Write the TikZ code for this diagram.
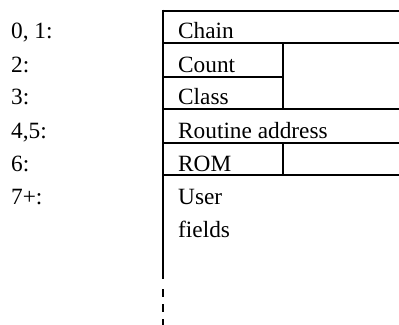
\documentclass[tikz,border=0pt]{standalone}
\usepackage{fontspec}
\setmainfont{Liberation Serif}
\begin{document}
\begin{tikzpicture}[x=1bp,y=-1bp,
  rule/.style={line width=2.6bp},
  lbl/.style={anchor=base west,inner sep=0pt,font=\fontsize{23.3bp}{28bp}\selectfont},
  fld/.style={anchor=base west,inner sep=0pt,font=\fontsize{23.3bp}{28bp}\selectfont}]
\useasboundingbox (0,0) rectangle (399,325);
% left labels
\node[lbl] (l0) at (11,38) {0, 1:};
\node[lbl] (l2) at (11,72.5) {2:};
\node[lbl] (l3) at (11,104.5) {3:};
\node[lbl] (l4) at (11,138) {4,5:};
\node[lbl] (l6) at (11,171) {6:};
\node[lbl] (l7) at (11,204) {7+:};
% field texts
\node[fld] (chain) at (178,38) {Chain};
\node[fld] (count) at (178,72.5) {Count};
\node[fld] (class) at (178,104.5) {Class};
\node[fld] (rout) at (178,138) {Routine address};
\node[fld] (rom) at (178,171) {ROM};
\node[fld] (user) at (178,204) {User};
\node[fld] (fields) at (178,237) {fields};
% rules
\draw[rule] (163,9.7) -- (163,279);
\draw[rule,dash pattern=on 8bp off 7bp] (163,289) -- (163,325);
\draw[rule] (163,11) -- (399,11);
\draw[rule] (163,43) -- (399,43);
\draw[rule] (163,77) -- (283,77);
\draw[rule] (283,43) -- (283,109);
\draw[rule] (163,109) -- (399,109);
\draw[rule] (163,143) -- (399,143);
\draw[rule] (283,143) -- (283,175);
\draw[rule] (163,175) -- (399,175);
\end{tikzpicture}
\end{document}
